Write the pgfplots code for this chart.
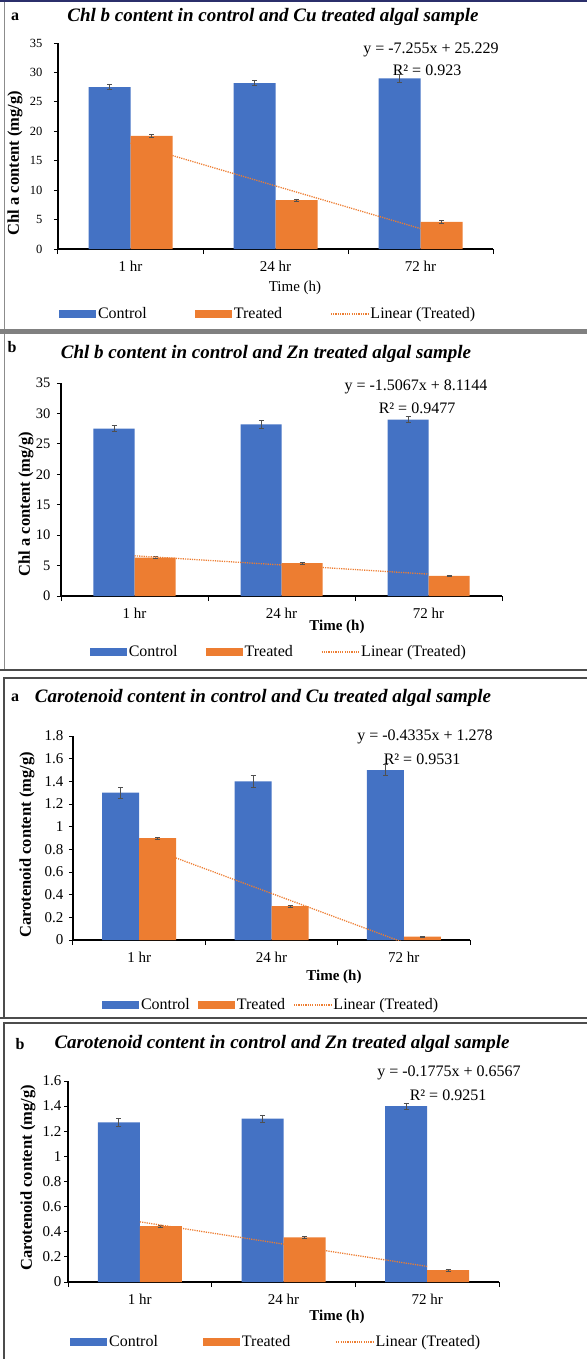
\documentclass[border=0pt]{standalone}
\usepackage{fontspec}
\setmainfont{Liberation Serif}
\usepackage{pgfplots}
\pgfplotsset{compat=1.18}
\definecolor{cblue}{HTML}{4472C4}
\definecolor{corange}{HTML}{ED7D31}
\definecolor{errgray}{HTML}{505050}
\definecolor{navy}{HTML}{2B2F6B}
\pgfplotsset{
  panel/.style={
    scale only axis,
    axis lines=left,
    axis line style={-, line width=1.1pt, black},
    xmin=-0.5, xmax=2.5, ymin=0,
    xtick={0,1,2}, xticklabels={1 hr,24 hr,72 hr},
    major x tick style={draw=none},
    minor xtick={-0.5,0.5,1.5,2.5},
    minor x tick style={black, line width=1pt},
    minor tick length=5pt,
    major tick length=4pt,
    tick align=outside,
    y tick style={black, line width=0.8pt},
    xticklabel style={font=\fontsize{15}{17}\selectfont, yshift=-5pt},
    /pgf/number format/assume math mode=true,
    legend columns=3,
    legend cell align=left,
    legend style={draw=none, fill=none, anchor=center, font=\fontsize{16}{18}\selectfont},
  },
  errs/.style={
    error bars/y dir=both, error bars/y explicit,
    error bars/error bar style={errgray, line width=0.8pt, xshift=#1},
    error bars/error mark options={rotate=90, mark size=2.5pt, errgray, line width=0.8pt}},
  ctrlbar/.style={ybar, fill=cblue, draw=none, bar width=2*#1, bar shift=-#1, errs=-#1,
    legend image code/.code={\fill[cblue] (0pt,-4pt) rectangle (37pt,4pt);}},
  trtbar/.style={ybar, fill=corange, draw=none, bar width=2*#1, bar shift=#1, errs=#1,
    legend image code/.code={\fill[corange] (0pt,-4pt) rectangle (37pt,4pt);}},
  trend/.style={sharp plot, no markers, corange, line width=1.3pt, dash pattern=on 1.2pt off 1.1pt,
    legend image code/.code={\draw[corange, line width=1.3pt, dash pattern=on 1.2pt off 1.1pt] (0pt,0pt) -- (37pt,0pt);}},
}
\begin{document}
\begin{tikzpicture}
\path[use as bounding box] (0pt,0pt) rectangle (587pt,-1359pt);
% frames
\draw[navy, line width=2.5pt] (0pt,-1.2pt) -- (587pt,-1.2pt);
\draw[black!45, line width=1pt] (4pt,-2pt) -- (4pt,-329pt);
\draw[black!50, line width=5pt] (0pt,-331.5pt) -- (587pt,-331.5pt);
\draw[black!45, line width=1pt] (4pt,-334pt) -- (4pt,-670pt);
\draw[black!70, line width=1.5pt] (0pt,-670pt) -- (587pt,-670pt);
\draw[black!70, line width=1.5pt] (4pt,-1018pt) -- (4pt,-678pt) -- (587pt,-678pt);
\draw[black!70, line width=1.5pt] (0pt,-1018pt) -- (587pt,-1018pt);
\draw[black!70, line width=1.5pt] (4pt,-1359pt) -- (4pt,-1023pt) -- (587pt,-1023pt);

% ---------------- Panel 1 ----------------
\node[font=\bfseries\fontsize{16}{18}\selectfont] at (15pt,-17pt) {a};
\node[font=\bfseries\itshape\fontsize{19}{21}\selectfont] at (273pt,-17pt) {Chl b content in control and Cu treated algal sample};
\node[font=\fontsize{16}{18}\selectfont] at (431pt,-50pt) {y = -7.255x + 25.229};
\node[font=\fontsize{16}{18}\selectfont] at (427pt,-70pt) {R² = 0.923};
\node[font=\bfseries\fontsize{16.5}{18}\selectfont, rotate=90] at (15pt,-163pt) {Chl a content (mg/g)};
\node[font=\fontsize{15}{17}\selectfont] at (295pt,-288pt) {Time (h)};
\begin{axis}[panel, at={(58pt,-249pt)}, anchor=south west,
  width=435pt, height=206pt, ymax=35, ytick distance=5,
  yticklabel style={font=\fontsize{12.5}{14}\selectfont, xshift=-8pt},
  legend style={at={(rel axis cs:0.483,-0.316)},
    /tikz/every even column/.append style={column sep=46pt}}]
\addplot[ctrlbar=21pt] coordinates {(0,27.5) +- (0,0.4) (1,28.2) +- (0,0.4) (2,29.0) +- (0,0.7)};
\addlegendentry{Control}
\addplot[trtbar=21pt] coordinates {(0,19.2) +- (0,0.2) (1,8.3) +- (0,0.2) (2,4.6) +- (0,0.2)};
\addlegendentry{Treated}
\addplot[trend] coordinates {(0,17.974) (1,10.719) (2,3.464)};
\addlegendentry{Linear (Treated)}
\end{axis}

% ---------------- Panel 2 ----------------
\node[font=\bfseries\fontsize{16}{18}\selectfont] at (12pt,-347pt) {b};
\node[font=\bfseries\itshape\fontsize{19}{21}\selectfont] at (266pt,-354pt) {Chl b content in control and Zn treated algal sample};
\node[font=\fontsize{16}{18}\selectfont] at (416pt,-387pt) {y = -1.5067x + 8.1144};
\node[font=\fontsize{16}{18}\selectfont] at (417pt,-408pt) {R² = 0.9477};
\node[font=\bfseries\fontsize{16.5}{18}\selectfont, rotate=90] at (26pt,-504pt) {Chl a content (mg/g)};
\node[font=\bfseries\fontsize{15}{17}\selectfont] at (337pt,-627pt) {Time (h)};
\begin{axis}[panel, at={(61pt,-596pt)}, anchor=south west,
  width=441pt, height=213pt, ymax=35, ytick distance=5,
  yticklabel style={font=\fontsize{14.5}{16}\selectfont, xshift=-3pt},
  legend style={at={(rel axis cs:0.494,-0.263)},
    /tikz/every even column/.append style={column sep=26pt}}]
\addplot[ctrlbar=20.5pt] coordinates {(0,27.5) +- (0,0.5) (1,28.2) +- (0,0.6) (2,29.0) +- (0,0.5)};
\addlegendentry{Control}
\addplot[trtbar=20.5pt] coordinates {(0,6.3) +- (0,0.15) (1,5.4) +- (0,0.15) (2,3.3) +- (0,0.15)};
\addlegendentry{Treated}
\addplot[trend] coordinates {(0,6.6077) (1,5.101) (2,3.5943)};
\addlegendentry{Linear (Treated)}
\end{axis}

% ---------------- Panel 3 ----------------
\node[font=\bfseries\fontsize{16}{18}\selectfont] at (15pt,-698pt) {a};
\node[font=\bfseries\itshape\fontsize{19}{21}\selectfont] at (263pt,-698pt) {Carotenoid content in control and Cu treated algal sample};
\node[font=\fontsize{16}{18}\selectfont] at (425pt,-737pt) {y = -0.4335x + 1.278};
\node[font=\fontsize{16}{18}\selectfont] at (422pt,-759pt) {R² = 0.9531};
\node[font=\bfseries\fontsize{16.5}{18}\selectfont, rotate=90] at (27pt,-845pt) {Carotenoid content (mg/g)};
\node[font=\bfseries\fontsize{15}{17}\selectfont] at (334pt,-977pt) {Time (h)};
\begin{axis}[panel, at={(73pt,-940pt)}, anchor=south west,
  width=397pt, height=204pt, ymax=1.8, ytick distance=0.2,
  yticklabel style={font=\fontsize{15}{17}\selectfont, xshift=-2pt},
  legend style={at={(rel axis cs:0.499,-0.319)},
    /tikz/every even column/.append style={column sep=6pt}}]
\addplot[ctrlbar=18.5pt] coordinates {(0,1.30) +- (0,0.05) (1,1.40) +- (0,0.05) (2,1.50) +- (0,0.05)};
\addlegendentry{Control}
\addplot[trtbar=18.5pt] coordinates {(0,0.90) +- (0,0.008) (1,0.30) +- (0,0.008) (2,0.03) +- (0,0.005)};
\addlegendentry{Treated}
\addplot[trend] coordinates {(0,0.8445) (1,0.411) (2,-0.0225)};
\addlegendentry{Linear (Treated)}
\end{axis}

% ---------------- Panel 4 ----------------
\node[font=\bfseries\fontsize{16}{18}\selectfont] at (20pt,-1044pt) {b};
\node[font=\bfseries\itshape\fontsize{19}{21}\selectfont] at (282pt,-1044pt) {Carotenoid content in control and Zn treated algal sample};
\node[font=\fontsize{16}{18}\selectfont] at (449pt,-1073pt) {y = -0.1775x + 0.6567};
\node[font=\fontsize{16}{18}\selectfont] at (448pt,-1095pt) {R² = 0.9251};
\node[font=\bfseries\fontsize{16.5}{18}\selectfont, rotate=90] at (28pt,-1178pt) {Carotenoid content (mg/g)};
\node[font=\bfseries\fontsize{15}{17}\selectfont] at (337pt,-1317pt) {Time (h)};
\begin{axis}[panel, at={(68pt,-1282pt)}, anchor=south west,
  width=431pt, height=201pt, ymax=1.6, ytick distance=0.2,
  yticklabel style={font=\fontsize{15}{17}\selectfont, xshift=1pt},
  legend style={at={(rel axis cs:0.483,-0.299)},
    /tikz/every even column/.append style={column sep=43pt}}]
\addplot[ctrlbar=21pt] coordinates {(0,1.27) +- (0,0.03) (1,1.30) +- (0,0.03) (2,1.40) +- (0,0.025)};
\addlegendentry{Control}
\addplot[trtbar=21pt] coordinates {(0,0.445) +- (0,0.008) (1,0.355) +- (0,0.006) (2,0.095) +- (0,0.008)};
\addlegendentry{Treated}
\addplot[trend] coordinates {(0,0.4792) (1,0.3017) (2,0.1242)};
\addlegendentry{Linear (Treated)}
\end{axis}
\end{tikzpicture}
\end{document}
